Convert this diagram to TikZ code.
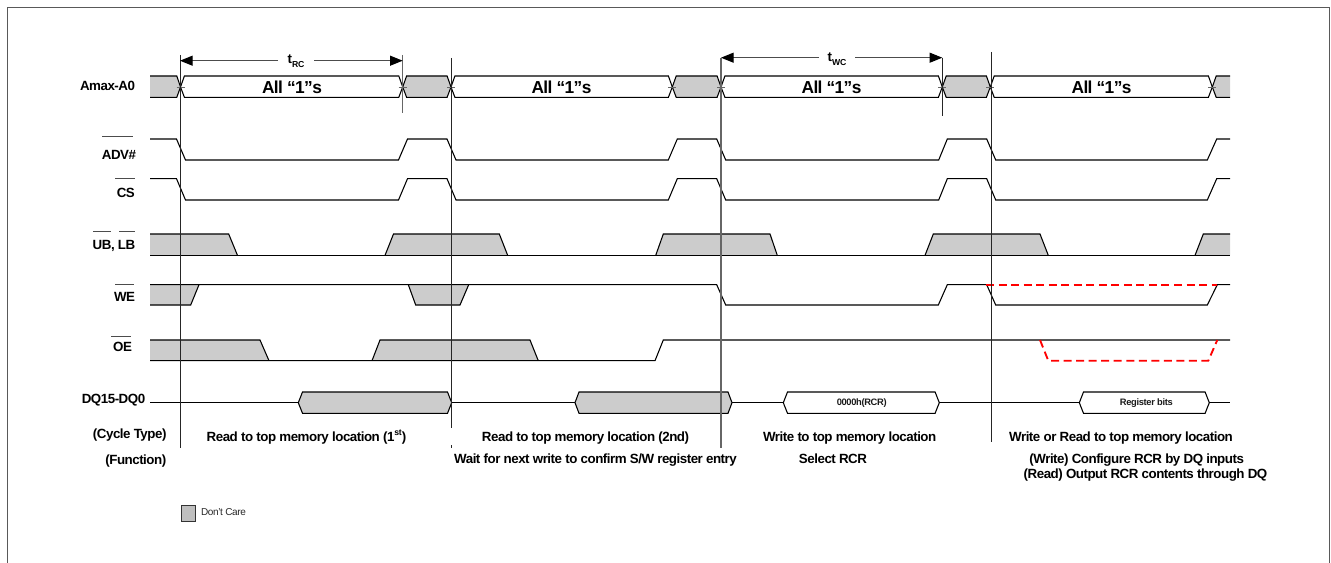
\documentclass[tikz,border=0pt]{standalone}
\usepackage{fontspec}
\setmainfont[LetterSpace=-3.6]{Liberation Sans}
\usetikzlibrary{arrows.meta}
\definecolor{dcgray}{RGB}{204,204,204}
\definecolor{redline}{RGB}{255,0,0}
\newcommand{\fsz}[1]{\fontsize{#1}{#1}\selectfont}
\newcommand{\subt}[2]{\textbf{#1\raisebox{-0.28em}{\fsz{6.5pt}#2}}}
\newcommand{\hexshape}[6]{(#1,#4) -- (#1+#6,#3) -- (#2-#6,#3) -- (#2,#4) -- (#2-#6,#5) -- (#1+#6,#5) -- cycle}
\tikzset{
  x=0.75pt,y=-0.75pt,
  sig/.style={draw=black,line width=0.8pt,line join=miter},
  dcfill/.style={fill=dcgray,draw=none},
  vbar/.style={draw=black!85,line width=0.7pt},
  vbargray/.style={draw=black!60,line width=1pt},
  dimlbl/.style={inner sep=0pt,font=\fsz{10pt}\bfseries,anchor=center,text=black},
  lbl/.style={inner sep=0pt,font=\fsz{10pt}\bfseries,anchor=center,text=black,text height=7.2pt,text depth=0pt},
  big/.style={inner sep=0pt,font=\fsz{13pt}\bfseries,anchor=center,text height=9.4pt,text depth=0pt},
  small/.style={inner sep=0pt,font=\fsz{7pt}\bfseries,anchor=center,text=black!90,text height=5pt,text depth=0pt},
  dim/.style={draw=black!70,line width=0.8pt,-{Triangle[length=9.5pt,width=7.5pt,color=black,fill=black]}},
  reddash/.style={draw=redline,line width=1.4pt,dash pattern=on 6pt off 3.4pt},
  obar/.style={draw=black!70,line width=0.6pt},
}
\begin{document}
\begin{tikzpicture}
\useasboundingbox (0,0) rectangle (1331,563);
\draw[draw=black!65,line width=0.8pt] (7.5,563) -- (7.5,7.5) -- (1329.5,7.5) -- (1329.5,563);

% address row
\fill[dcfill] (150,76) -- (176.8,76) -- (180.5,87) -- (176.8,97.3) -- (150,97.3) -- cycle;
\foreach \a/\b in {402.7/451,672.3/721,942.3/990.3}
  \fill[dcfill] \hexshape{\a}{\b}{76}{87}{97.3}{3.9};
\fill[dcfill] (1212.3,87) -- (1216.2,76) -- (1230,76) -- (1230,97.3) -- (1216.2,97.3) -- cycle;
\foreach \a/\b in {180.5/402.7,451/672.3,721/942.3,990.3/1212.3}
  \draw[sig] \hexshape{\a}{\b}{76}{87}{97.3}{3.9};
\foreach \a/\b in {402.7/451,672.3/721,942.3/990.3}
  \draw[sig] \hexshape{\a}{\b}{76}{87}{97.3}{3.9};
\draw[sig] (150,76) -- (176.8,76) -- (180.5,87) -- (176.8,97.3) -- (150,97.3);
\draw[sig] (1230,76) -- (1216.2,76) -- (1212.3,87) -- (1216.2,97.3) -- (1230,97.3);
\foreach \c in {180.5,402.7,451,672.3,721,942.3,990.3,1212.3}
  \draw[draw=black!60,line width=0.6pt] (\c-4,87) -- (\c+4,87);

% ADV, CS
\foreach \h/\l in {139/160,178.7/200}
  \draw[sig] (150,\h) -- (176.5,\h) -- (185.5,\l) -- (398.5,\l) -- (407.5,\h) -- (447,\h) -- (456,\l)
    -- (668.3,\l) -- (677.3,\h) -- (716.7,\h) -- (725.7,\l) -- (938.7,\l) -- (947.3,\h) -- (986.7,\h)
    -- (995.7,\l) -- (1207.3,\l) -- (1216.7,\h) -- (1230,\h);

% UB LB
\def\ubl{255.4}
\fill[dcfill] (150,234) -- (228.7,234) -- (237.5,\ubl) -- (150,\ubl) -- cycle;
\fill[dcfill] (385,\ubl) -- (393.5,234) -- (499.3,234) -- (507.7,\ubl) -- cycle;
\fill[dcfill] (655.7,\ubl) -- (663.3,234) -- (770,234) -- (777.3,\ubl) -- cycle;
\fill[dcfill] (925,\ubl) -- (933.3,234) -- (1040,234) -- (1048.3,\ubl) -- cycle;
\fill[dcfill] (1195,\ubl) -- (1203.3,234) -- (1230,234) -- (1230,\ubl) -- cycle;
\draw[sig] (150,\ubl) -- (1230,\ubl);
\draw[sig] (150,234) -- (228.7,234) -- (237.5,\ubl);
\draw[sig] (385,\ubl) -- (393.5,234) -- (499.3,234) -- (507.7,\ubl);
\draw[sig] (655.7,\ubl) -- (663.3,234) -- (770,234) -- (777.3,\ubl);
\draw[sig] (925,\ubl) -- (933.3,234) -- (1040,234) -- (1048.3,\ubl);
\draw[sig] (1195,\ubl) -- (1203.3,234) -- (1230,234);

% WE
\fill[dcfill] (150,284.7) -- (199,284.7) -- (190.7,305) -- (150,305) -- cycle;
\fill[dcfill] (408.3,284.7) -- (468.7,284.7) -- (460,305) -- (415.7,305) -- cycle;
\draw[sig] (150,305) -- (190.7,305) -- (199,284.7);
\draw[sig] (150,284.7) -- (716.7,284.7) -- (725.7,305) -- (938.3,305) -- (947.3,284.7) -- (986.7,284.7)
  -- (995.7,305) -- (1207.3,305) -- (1217.3,284.7) -- (1230,284.7);
\draw[sig] (408.3,284.7) -- (415.7,305) -- (460,305) -- (468.7,284.7);

% OE
\fill[dcfill] (150,340) -- (260,340) -- (269,360.7) -- (150,360.7) -- cycle;
\fill[dcfill] (372,360.7) -- (380,340) -- (530,340) -- (538.3,360.7) -- cycle;
\draw[sig] (150,360.7) -- (655,360.7) -- (663.3,340) -- (1230,340);
\draw[sig] (150,340) -- (260,340) -- (269,360.7);
\draw[sig] (372,360.7) -- (380,340) -- (530,340) -- (538.3,360.7);

% DQ
\draw[sig] (150,402.7) -- (298.3,402.7) (451.7,402.7) -- (575,402.7) (732,402.7) -- (783.3,402.7)
  (939.3,402.7) -- (1079.3,402.7) (1209.3,402.7) -- (1230,402.7);
\filldraw[fill=dcgray,sig] \hexshape{298.3}{451.7}{392}{402.7}{413.3}{4.2};
\filldraw[fill=dcgray,sig] \hexshape{575}{732}{392}{402.7}{413.3}{4};
\draw[sig] \hexshape{783.3}{939.3}{392}{402.7}{413.3}{4.2};
\draw[sig] \hexshape{1079.3}{1209.3}{392}{402.7}{413.3}{4.2};

% red dashed
\draw[reddash] (986,284.7) -- (1217.3,284.7);
\draw[reddash] (1040,340) -- (1048.3,360.7) -- (1208.3,360.7) -- (1217.3,340);

% vertical lines
\draw[vbar] (180,55) -- (180,448);
\draw[vbargray] (402.7,55) -- (402.7,113);
\draw[vbar] (451.5,58) -- (451.5,428) (451.5,445) -- (451.5,448);
\draw[vbargray] (721,58) -- (721,447.7);
\draw[vbar] (942.3,58) -- (942.3,116);
\draw[vbar] (991,52) -- (991,442);

% dimensions
\node[dimlbl] (trc) at (296,61.5) {\subt{t}{RC}};
\node[dimlbl] (twc) at (837,59.5) {\subt{t}{WC}};
\coordinate (trcL) at (180,60.7);
\coordinate (trcR) at (402.7,60.7);
\coordinate (twcL) at (721,57.7);
\coordinate (twcR) at (942.3,57.7);
\draw[dim] (278,60.7) -- (trcL);
\draw[dim] (314,60.7) -- (trcR);
\draw[dim] (819,57.7) -- (twcL);
\draw[dim] (855,57.7) -- (twcR);

% row labels
\node[big] (a1) at (292,87) {All “1”s};
\node[big] (a2) at (561.5,87) {All “1”s};
\node[big] (a3) at (831.5,87) {All “1”s};
\node[big] (a4) at (1101.5,87) {All “1”s};
\node[lbl] (amax) at (107.5,86) {Amax-A0};
\node[lbl] (adv) at (119,155) {ADV\#};
\node[lbl] (cs) at (125.8,192.5) {CS};
\node[lbl] (ub) at (114,245) {UB, LB};
\node[lbl] (we) at (124.5,296.7) {WE};
\node[lbl] (oe) at (122.5,346.7) {OE};
\node[lbl] (dq) at (113.5,399) {DQ15-DQ0};
\node[lbl] (ct) at (129.7,434) {(Cycle Type)};
\node[lbl] (fn) at (135.8,460) {(Function)};
\draw[obar] (102,136.5) -- (133,136.5);
\draw[obar] (115,178.7) -- (135,178.7);
\draw[obar] (93,231) -- (111,231) (119,231) -- (134.7,231);
\draw[obar] (115,284) -- (134,284);
\draw[obar] (111,336.7) -- (131,336.7);

% captions
\node[lbl] (c1) at (306.5,436.7) {Read to top memory location (1\raisebox{0.42em}{\fsz{6.5pt}st})};
\node[lbl] (c2) at (585.5,436.7) {Read to top memory location (2nd)};
\node[lbl] (c2b) at (595.5,458.3) {Wait for next write to confirm S/W register entry};
\node[lbl] (c3) at (849.7,436.7) {Write to top memory location};
\node[lbl] (c3b) at (833,458.3) {Select RCR};
\node[lbl] (c4) at (1121,436.7) {Write or Read to top memory location};
\node[lbl] (c4b) at (1136.7,458.3) {(Write) Configure RCR by DQ inputs};
\node[lbl] (c4c) at (1145.5,474) {(Read) Output RCR contents through DQ};
\node[small] (rcr) at (861.7,402.5) {0000h(RCR)};
\node[small] (reg) at (1146.3,402.5) {Register bits};

% legend
\node[draw=black!80,fill=black!25,line width=0.7pt,inner sep=0pt,minimum width=10.5pt,minimum height=12.2pt] (leg) at (188.3,513.5) {};
\node[inner sep=0pt,font=\fsz{7.5pt},text=black!85] (legt) at (223.5,512) {Don't Care};
\end{tikzpicture}
\end{document}
